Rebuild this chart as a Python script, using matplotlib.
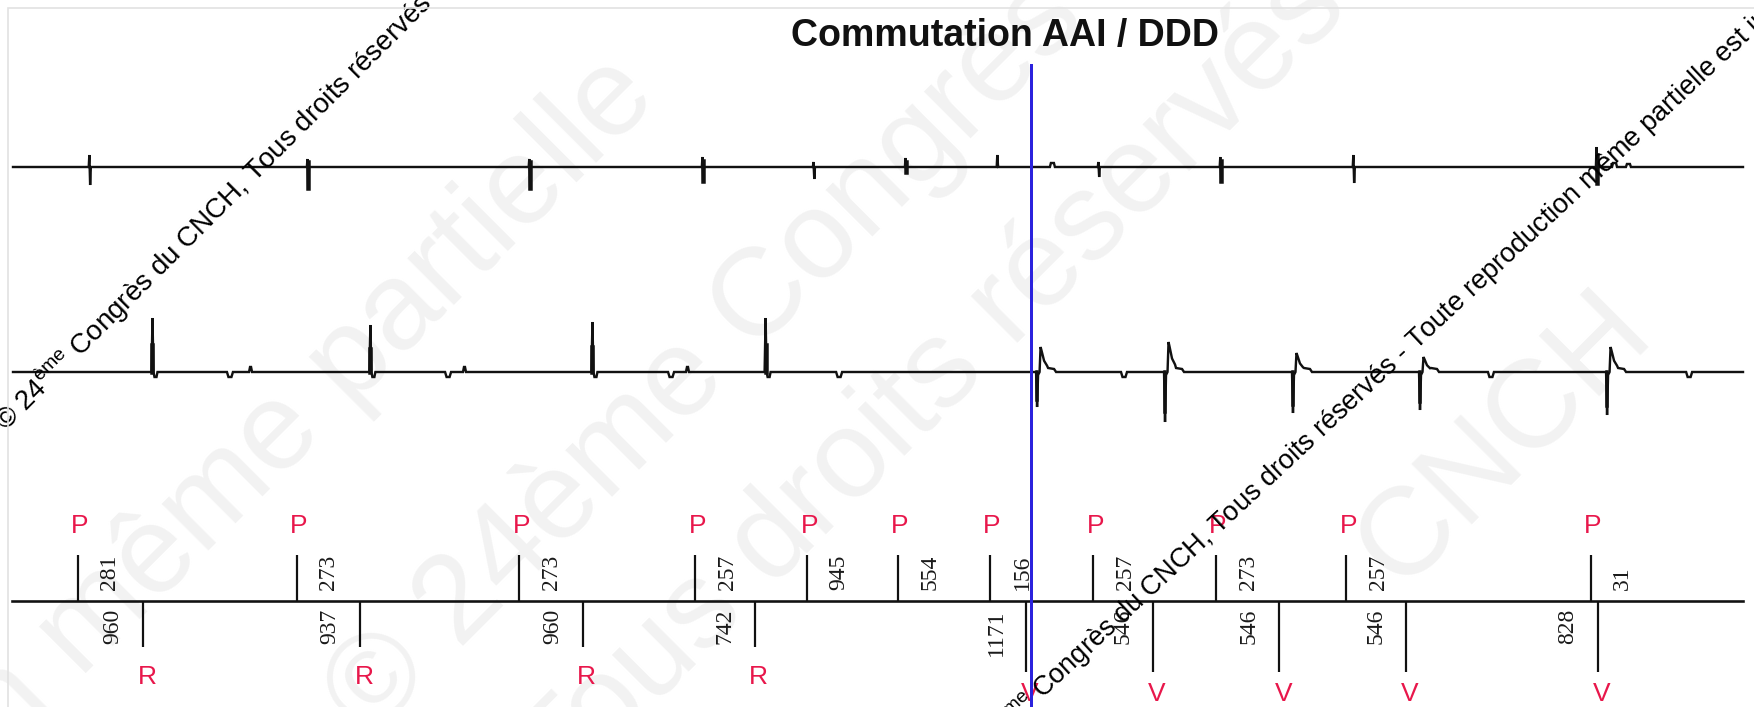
import matplotlib
matplotlib.use("Agg")
import matplotlib.pyplot as plt
from matplotlib.patches import Rectangle

plt.rcParams['font.family'] = ['Liberation Sans', 'DejaVu Sans']
plt.rcParams['mathtext.fontset'] = 'custom'
plt.rcParams['mathtext.rm'] = 'Liberation Sans'

# ---------------- data ----------------
title = "Commutation AAI / DDD"

# marker channel (times in ms)
p_times = [336, 1281, 2241, 2999, 3482, 3873, 4271, 4716, 5246, 5808, 6862]
p_labels = ["281", "273", "273", "257", "945", "554", "156", "257", "273", "257", "31"]
v_times = [617, 1554, 2514, 3256, 4427, 4973, 5519, 6065, 6893]
v_kinds = ["R", "R", "R", "R", "V", "V", "V", "V", "V"]
v_labels = ["960", "937", "960", "742", "1171", "546", "546", "546", "828"]
switch_time = 4448

# atrial electrogram
a_times = [388, 1329, 2286, 3033, 3512, 3909, 4305, 4741, 5267, 5841, 6890]
a_up = [12, 8, 8, 10, 5, 9, 12, 5, 10, 12, 20]
a_down = [18, 23, 23, 16, 12, 6, 0, 10, 16, 16, 18]
a_thick = [0, 1, 1, 1, 0, 1, 0, 0, 1, 0, 1]
a_ff_times = [4538, 6963, 7023]
a_ff_amp = [4, 4, 3]

# ventricular electrogram
vs_times = [660, 1600, 2558, 3305]
vs_amp = [54, 47, 50, 54]
vp_times = [4474, 5026, 5578, 6126, 6933]
vp_down = [35, 50, 41, 38, 43]
vp_up = [25, 30, 19, 15, 25]
t_dip_times = [992, 1933, 2895, 3620, 4849, 6432, 7287]
t_bump_times = [1083, 2006, 2968]

# ---------------- layout ----------------
W, H = 1754, 707
MS_PER_PX = 1 / 0.2318
T0, T1 = 13 * MS_PER_PX, 1743 * MS_PER_PX
BASE_A, BASE_V, BASE_M = 167, 372, 601
LW = 2.4 * 0.72

fig = plt.figure(figsize=(W / 100, H / 100), dpi=100)
ax = fig.add_axes([0, 0, 1, 1])
ax.set_xlim(0, W * MS_PER_PX)
ax.set_ylim(H, 0)
ax.axis('off')

# light frame
fig.patches.append(Rectangle((8 / W, -0.5), 2, (H - 8) / H + 0.5, transform=fig.transFigure,
                             fill=False, edgecolor='#e2e2e2', lw=1.2, zorder=0))


def px2d(x, y):
    return x * MS_PER_PX, y


# big faint watermark
wm_kw = dict(fontsize=90, color='#f2f2f2', rotation=45, rotation_mode='anchor', zorder=0)
ax.text(*px2d(660, 100), "reproduction même partielle", ha='right', va='baseline', **wm_kw)
ax.text(*px2d(370, 740), "© 24ème Congrès du CNCH", ha='left', va='baseline', **wm_kw)
ax.text(*px2d(560, 800), "Tous droits réservés", ha='left', va='baseline', **wm_kw)
ax.text(*px2d(1400, 590), "CNCH", ha='left', va='baseline', **wm_kw)


def build(events, base):
    xs, ys = [T0], [base]
    for t, tpl in sorted(events, key=lambda e: e[0]):
        for dx, dy in tpl:
            xs.append(t + dx * MS_PER_PX)
            ys.append(base + dy)
    xs.append(T1)
    ys.append(base)
    return xs, ys


# atrial trace
ev = []
for t, u, d in zip(a_times, a_up, a_down):
    ev.append((t, [(-1.2, 0), (-0.6, -u), (0.2, d), (0.9, 0)]))
for t, a in zip(a_ff_times, a_ff_amp):
    ev.append((t, [(-2, 0), (-1, -a), (2, -a), (3, 0)]))
xs, ys = build(ev, BASE_A)
ax.plot(xs, ys, color='#111111', lw=LW, solid_joinstyle='miter', zorder=3)
for t, u, d, th in zip(a_times, a_up, a_down, a_thick):
    if th:
        ax.plot([t - 0.3 * MS_PER_PX] * 2, [BASE_A - u * 0.6, BASE_A + d * 0.9],
                color='#111111', lw=4.5 * 0.72, zorder=3)

# ventricular trace
ev = []
for t, a in zip(vs_times, vs_amp):
    ev.append((t, [(-1.5, 0), (-0.5, -a), (0.5, 0), (1.5, 5), (3.5, 5), (4.5, 0)]))
for t, d, u in zip(vp_times, vp_down, vp_up):
    ev.append((t, [(-1, 0), (0, d), (1, 3), (2.5, 0), (3.5, -u), (4.5, -u * 0.85),
                   (7, -u * 0.45), (10, -u * 0.25), (11, -4), (17, -3), (19, 0)]))
for t in t_dip_times:
    ev.append((t, [(-3, 0), (-1.5, 5), (1.5, 5), (3, 0)]))
for t in t_bump_times:
    ev.append((t, [(-2, 0), (-1, -5), (0, -5), (1, 0)]))
xs, ys = build(ev, BASE_V)
ax.plot(xs, ys, color='#111111', lw=LW, solid_joinstyle='miter', zorder=3)
for t, a in zip(vs_times, vs_amp):
    ax.plot([t - 0.5 * MS_PER_PX] * 2, [BASE_V, BASE_V - a * 0.5], color='#111111',
            lw=4.5 * 0.72, zorder=3)
for t, d in zip(vp_times, vp_down):
    ax.plot([t] * 2, [BASE_V, BASE_V + d * 0.8], color='#111111', lw=3.5 * 0.72, zorder=3)

# marker channel
ax.plot([12 * MS_PER_PX, T1], [BASE_M, BASE_M], color='#111111', lw=2.6 * 0.72, zorder=3)
ax.vlines(p_times, 555, BASE_M, color='#111111', lw=2.2 * 0.72, zorder=3)
red = '#e8174b'
for t, lab in zip(p_times, p_labels):
    ax.text(t + 2 * MS_PER_PX, 526, "P", color=red, fontsize=19, ha='center', va='center', zorder=4)
    ax.text(t + 32 * MS_PER_PX, 590, lab, family='Liberation Serif', fontsize=17, rotation=90,
            ha='center', va='bottom', color='#1a1a1a', zorder=4)
for t, k, lab in zip(v_times, v_kinds, v_labels):
    bottom = 647 if k == "R" else 672
    ly = 677 if k == "R" else 694
    ax.vlines([t], BASE_M, bottom, color='#111111', lw=2.2 * 0.72, zorder=3)
    ax.text(t + 4 * MS_PER_PX, ly, k, color=red, fontsize=19, ha='center', va='center', zorder=4)
    ax.text(t - 30 * MS_PER_PX, 609, lab, family='Liberation Serif', fontsize=17, rotation=90,
            ha='center', va='top', color='#1a1a1a', zorder=4)

# mode switch line
ax.plot([switch_time, switch_time], [65, H + 5], color='#2b22dd', lw=3 * 0.72, zorder=5)

# title
ax.text(1005 * MS_PER_PX, 36, title, fontsize=27, fontweight='bold', ha='center', va='center',
        color='#111111', zorder=6)

# small copyright watermark
wm_txt = "© 24$^{\\mathrm{ème}}$ Congrès du CNCH, Tous droits réservés - Toute reproduction même partielle est interdite"
ax.text(*px2d(6, 432), wm_txt, fontsize=20, rotation=45, rotation_mode='anchor',
        ha='left', va='baseline', color='black', zorder=7)
ax.text(*px2d(968, 770), wm_txt, fontsize=19.5, rotation=43, rotation_mode='anchor',
        ha='left', va='baseline', color='black', zorder=7)

fig.savefig("out.png", dpi=100)
